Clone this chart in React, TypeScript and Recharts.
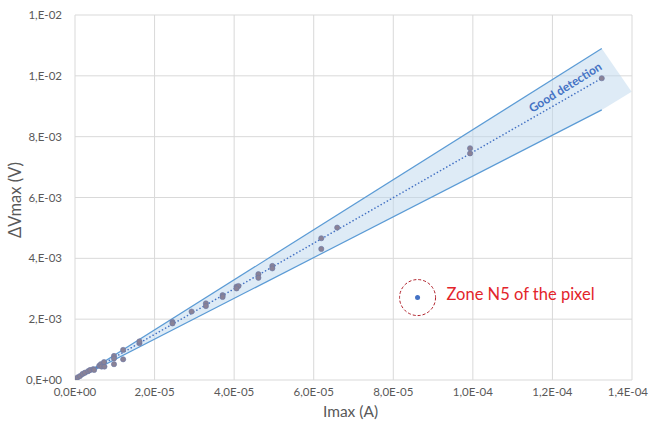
import {
  ComposedChart,
  Scatter,
  Line,
  Area,
  XAxis,
  YAxis,
  CartesianGrid,
  Label,
} from "recharts";

// measured points: Imax (A) and ΔVmax (V)
const currentA = [
  2e-7, 6.8e-7, 1.26e-6, 1.9e-6, 2.5e-6, 3.3e-6, 3.8e-6, 4.6e-6, 4.8e-6,
  6.1e-6, 6.5e-6, 6.7e-6, 7.4e-6, 7.3e-6, 9.8e-6, 9.8e-6, 9.8e-6, 1.21e-5,
  1.21e-5, 1.62e-5, 1.62e-5, 2.45e-5, 2.45e-5, 2.93e-5, 3.29e-5, 3.29e-5,
  3.71e-5, 3.71e-5, 4.06e-5, 4.11e-5, 4.06e-5, 4.61e-5, 4.61e-5, 4.96e-5,
  4.96e-5, 6.19e-5, 6.19e-5, 6.59e-5, 9.93e-5, 9.93e-5, 1.324e-4,
];
const deltaV = [
  3e-5, 8.9e-5, 1.3e-4, 2.0e-4, 2.4e-4, 2.9e-4, 3.3e-4, 3.6e-4, 3.3e-4,
  4.7e-4, 5.2e-4, 4.4e-4, 4.4e-4, 5.9e-4, 7.9e-4, 7.1e-4, 5.2e-4, 9.9e-4,
  6.8e-4, 1.21e-3, 1.27e-3, 1.91e-3, 1.86e-3, 2.25e-3, 2.52e-3, 2.43e-3,
  2.79e-3, 2.73e-3, 3.07e-3, 3.09e-3, 3.01e-3, 3.48e-3, 3.36e-3, 3.75e-3,
  3.67e-3, 4.66e-3, 4.31e-3, 5.01e-3, 7.62e-3, 7.45e-3, 9.92e-3,
];

// linear trend
const trendX = [0, 1.324e-4];
const trendY = [0, 9.92e-3];

// "good detection" band
const bandX = [0, 1.324e-4, 1.399e-4];
const bandLow = [0, 8.88e-3, 9.48e-3];
const bandHigh = [0, 1.09e-2, 9.48e-3];

// zone N5 marker
const zoneA = [8.61e-5];
const zoneV = [2.71e-3];

// anchor of the band caption
const tagA = [1.232e-4];
const tagV = [9.63e-3];

const xTicks = [0, 2e-5, 4e-5, 6e-5, 8e-5, 1e-4, 1.2e-4, 1.4e-4];
const xTickLabels = [
  "0,0E+00",
  "2,0E-05",
  "4,0E-05",
  "6,0E-05",
  "8,0E-05",
  "1,0E-04",
  "1,2E-04",
  "1,4E-04",
];
const yTicks = [0, 0.002, 0.004, 0.006, 0.008, 0.01, 0.012];
const yTickLabels = ["0,E+00", "2,E-03", "4,E-03", "6,E-03", "8,E-03", "1,E-02", "1,E-02"];

const points = currentA.map((x, i) => ({ x, y: deltaV[i] }));
const trend = trendX.map((x, i) => ({ x, y: trendY[i] }));
const band = bandX.map((x, i) => ({ x, band: [bandLow[i], bandHigh[i]] }));
const upperEdge = bandX.slice(0, 2).map((x, i) => ({ x, y: bandHigh[i] }));
const lowerEdge = bandX.slice(0, 2).map((x, i) => ({ x, y: bandLow[i] }));
const zone = zoneA.map((x, i) => ({ x, y: zoneV[i] }));
const tag = tagA.map((x, i) => ({ x, y: tagV[i] }));

const font = "Lato, 'Open Sans', sans-serif";
const tickStyle = { fontSize: 11.5, fill: "#595959", fontFamily: font };

// x tick: the last label is pulled in so it stays inside the picture
const XTick = (props: any) => {
  const { x, y, payload } = props;
  const idx = xTicks.indexOf(payload.value);
  const last = idx === xTicks.length - 1;
  return (
    <text
      x={last ? 648 : x}
      y={y}
      dy="0.71em"
      textAnchor={last ? "end" : "middle"}
      {...tickStyle}
    >
      {xTickLabels[idx] ?? ""}
    </text>
  );
};

const ZoneMark = (props: any) => {
  const { cx, cy } = props;
  return (
    <g>
      <circle cx={cx} cy={cy} r={18} fill="none" stroke="#b0202a" strokeWidth={1} strokeDasharray="3 2" />
      <circle cx={cx} cy={cy} r={2.5} fill="#4472c4" />
      <text
        x={cx + 29}
        y={cy - 4}
        dominantBaseline="central"
        fill="#e3242b"
        fontSize={16.5}
        fontFamily={font}
      >
        Zone N5 of the pixel
      </text>
    </g>
  );
};

const BandTag = (props: any) => {
  const { cx, cy } = props;
  return (
    <text
      x={cx}
      y={cy}
      textAnchor="middle"
      dominantBaseline="central"
      transform={`rotate(-32 ${cx} ${cy})`}
      fill="#4472c4"
      fontSize={12}
      fontWeight="bold"
      fontFamily={font}
    >
      Good detection
    </text>
  );
};

const Dot = (props: any) => (
  <circle cx={props.cx} cy={props.cy} r={2.6} fill="#8a8296" stroke="#6a78a8" strokeWidth={0.6} />
);

export default function App() {
  return (
    <div style={{ position: "absolute", left: 0, top: 0, background: "#fff" }}>
      <ComposedChart
        width={650}
        height={428}
        margin={{ top: 15, right: 18, bottom: 0, left: 15 }}
      >
        <CartesianGrid stroke="#d9d9d9" strokeWidth={1} />
        <XAxis
          type="number"
          dataKey="x"
          domain={[0, 1.4e-4]}
          ticks={xTicks}
          allowDataOverflow
          axisLine={false}
          tickLine={false}
          height={48}
          tick={<XTick />}
        >
          <Label
            content={(p: any) => {
              const vb = p.viewBox;
              return (
                <text
                  x={vb.x + vb.width / 2 - 3}
                  y={411}
                  textAnchor="middle"
                  dominantBaseline="central"
                  fill="#595959"
                  fontSize={15.5}
                  fontFamily={font}
                >
                  Imax (A)
                </text>
              );
            }}
          />
        </XAxis>
        <YAxis
          type="number"
          dataKey="y"
          domain={[0, 0.012]}
          ticks={yTicks}
          allowDataOverflow
          axisLine={false}
          tickLine={false}
          width={60}
          tickMargin={7}
          tick={tickStyle}
          tickFormatter={(v: number) => yTickLabels[yTicks.indexOf(v)] ?? ""}
        >
          <Label
            content={() => (
              <text
                x={15}
                y={200}
                textAnchor="middle"
                dominantBaseline="central"
                transform="rotate(-90 15 200)"
                fill="#595959"
                fontSize={16.5}
                fontFamily={font}
              >
                ΔVmax (V)
              </text>
            )}
          />
        </YAxis>
        <Area
          data={band}
          dataKey="band"
          type="linear"
          stroke="none"
          fill="#bdd7ee"
          fillOpacity={0.5}
          isAnimationActive={false}
        />
        <Line
          data={upperEdge}
          dataKey="y"
          type="linear"
          stroke="#5b9bd5"
          strokeWidth={1.2}
          dot={false}
          activeDot={false}
          isAnimationActive={false}
        />
        <Line
          data={lowerEdge}
          dataKey="y"
          type="linear"
          stroke="#5b9bd5"
          strokeWidth={1.2}
          dot={false}
          activeDot={false}
          isAnimationActive={false}
        />
        <Line
          data={trend}
          dataKey="y"
          type="linear"
          stroke="#4472c4"
          strokeWidth={1.6}
          strokeDasharray="0.1 3.5"
          strokeLinecap="round"
          dot={false}
          activeDot={false}
          isAnimationActive={false}
        />
        <Scatter data={points} dataKey="y" shape={Dot} isAnimationActive={false} />
        <Scatter data={zone} dataKey="y" shape={ZoneMark} isAnimationActive={false} />
        <Scatter data={tag} dataKey="y" shape={BandTag} isAnimationActive={false} />
      </ComposedChart>
    </div>
  );
}
